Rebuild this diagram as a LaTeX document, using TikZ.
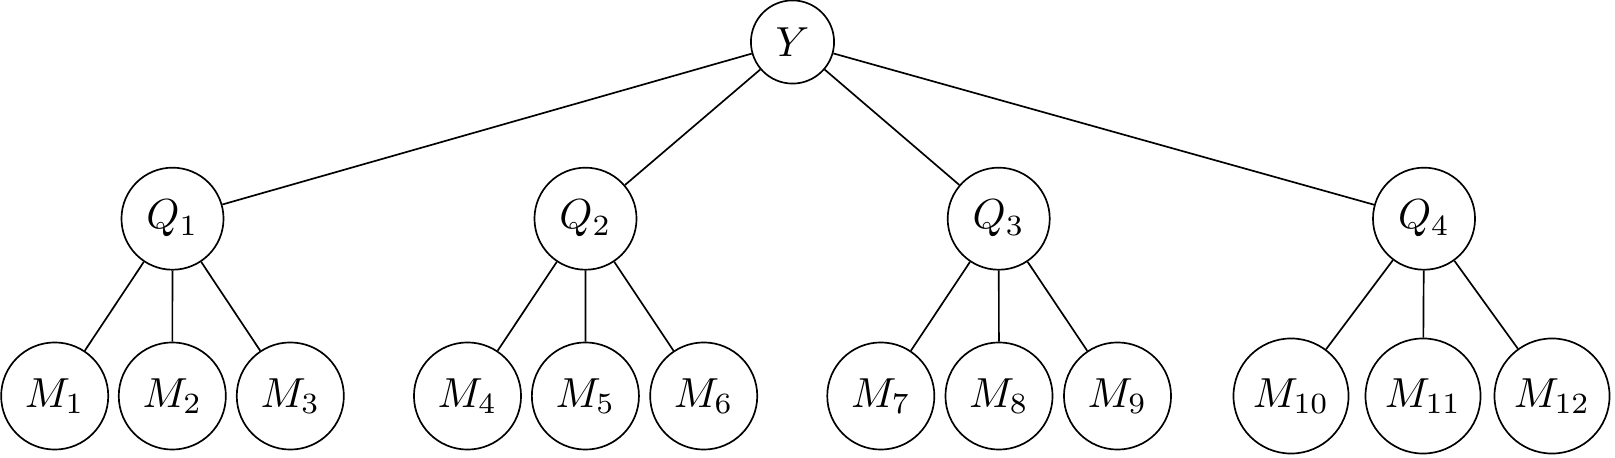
\documentclass[tikz,border=0pt]{standalone}
\begin{document}
\begin{tikzpicture}[x=0.238095pt,y=-0.238095pt,
  ynode/.style={circle,draw,inner sep=0pt,minimum size=19.8pt},
  qnode/.style={circle,draw,inner sep=0pt,minimum size=24.3pt},
  mnode/.style={circle,draw,inner sep=0pt,minimum size=25.5pt},
  wnode/.style={circle,draw,inner sep=0pt,minimum size=27.4pt},
  edge/.style={draw,line width=0.4pt}]
\useasboundingbox (0,0) rectangle (1615,458);
\node[ynode] (Y) at (792.5,42) {$Y$};
\node[qnode] (Q1) at (172.5,218.7) {$Q_1$};
\node[qnode] (Q2) at (585.5,218.7) {$Q_2$};
\node[qnode] (Q3) at (998.7,218.7) {$Q_3$};
\node[qnode] (Q4) at (1424,218.7) {$Q_4$};
\node[mnode] (M1) at (54.7,396) {$M_1$};
\node[mnode] (M2) at (172.3,396) {$M_2$};
\node[mnode] (M3) at (290.3,396) {$M_3$};
\node[mnode] (M4) at (467.5,396) {$M_4$};
\node[mnode] (M5) at (585.4,396) {$M_5$};
\node[mnode] (M6) at (703.7,396) {$M_6$};
\node[mnode] (M7) at (880.8,396) {$M_7$};
\node[mnode] (M8) at (999.0,396) {$M_8$};
\node[mnode] (M9) at (1117.5,396) {$M_9$};
\node[wnode] (M10) at (1291,396) {$M_{10}$};
\node[wnode] (M11) at (1423,396) {$M_{11}$};
\node[wnode] (M12) at (1552,396) {$M_{12}$};
\foreach \q in {1,2,3,4} \draw[edge] (Y) -- (Q\q);
\draw[edge] (Q1) -- (M1); \draw[edge] (Q1) -- (M2); \draw[edge] (Q1) -- (M3);
\draw[edge] (Q2) -- (M4); \draw[edge] (Q2) -- (M5); \draw[edge] (Q2) -- (M6);
\draw[edge] (Q3) -- (M7); \draw[edge] (Q3) -- (M8); \draw[edge] (Q3) -- (M9);
\draw[edge] (Q4) -- (M10); \draw[edge] (Q4) -- (M11); \draw[edge] (Q4) -- (M12);
\end{tikzpicture}
\end{document}
